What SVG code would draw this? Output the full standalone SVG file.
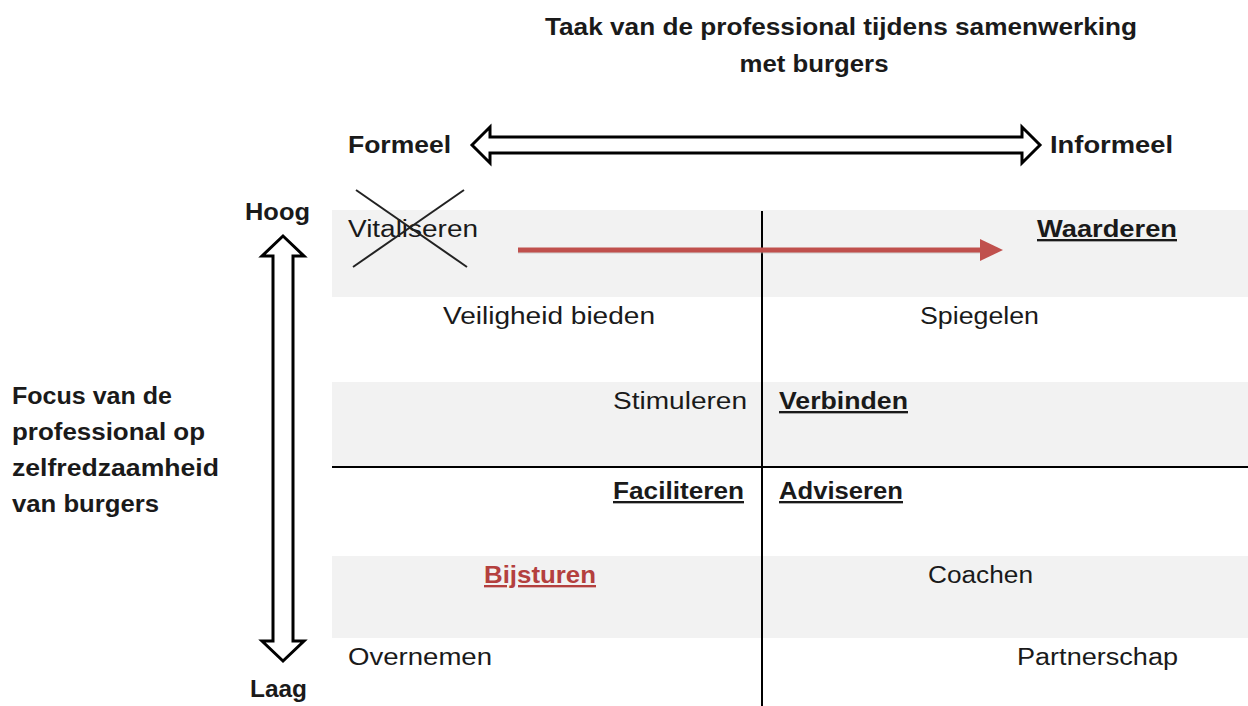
<svg xmlns="http://www.w3.org/2000/svg" width="1248" height="706" viewBox="0 0 1248 706">
<style>
text{font-family:"Liberation Sans",Arial,sans-serif;font-size:23.5px;fill:#1a1a1a}
.b{font-weight:bold}
.u{font-weight:bold;text-decoration:underline}
.band{fill:#f2f2f2}
.ax{fill:#fff;stroke:#000;stroke-width:3;stroke-linejoin:miter}
</style>
<rect width="1248" height="706" fill="#fff"/>
<g id="bands">
<rect class="band" x="332" y="210" width="916" height="87"/>
<rect class="band" x="332" y="382" width="916" height="85"/>
<rect class="band" x="332" y="556" width="916" height="82"/>
</g>
<g id="grid">
<line x1="762" y1="211" x2="762" y2="706" stroke="#000" stroke-width="2"/>
<line x1="332" y1="467" x2="1248" y2="467" stroke="#000" stroke-width="2"/>
</g>
<g id="title">
<text class="b" x="841" y="35" text-anchor="middle" textLength="592" lengthAdjust="spacingAndGlyphs">Taak van de professional tijdens samenwerking</text>
<text class="b" x="814" y="72" text-anchor="middle" textLength="149" lengthAdjust="spacingAndGlyphs">met burgers</text>
</g>
<g id="axis-h">
<polygon class="ax" points="472,145 490,127 490,137 1022,137 1022,127 1040,145 1022,163 1022,153 490,153 490,163"/>
<text class="b" x="348" y="153" textLength="103" lengthAdjust="spacingAndGlyphs">Formeel</text>
<text class="b" x="1050" y="153" textLength="123" lengthAdjust="spacingAndGlyphs">Informeel</text>
</g>
<g id="axis-v">
<polygon class="ax" points="283,236 304,256 293,256 293,641 304,641 283,661 262,641 273,641 273,256 262,256"/>
<text class="b" x="245" y="220" textLength="65" lengthAdjust="spacingAndGlyphs">Hoog</text>
<text class="b" x="250" y="697" textLength="57" lengthAdjust="spacingAndGlyphs">Laag</text>
</g>
<g id="focus-label">
<text class="b" x="12" y="404" textLength="160" lengthAdjust="spacingAndGlyphs">Focus van de</text>
<text class="b" x="12" y="440" textLength="193" lengthAdjust="spacingAndGlyphs">professional op</text>
<text class="b" x="12" y="476" textLength="207" lengthAdjust="spacingAndGlyphs">zelfredzaamheid</text>
<text class="b" x="12" y="512" textLength="147" lengthAdjust="spacingAndGlyphs">van burgers</text>
</g>
<g id="vitaliseren">
<text x="348" y="237" textLength="130" lengthAdjust="spacingAndGlyphs">Vitaliseren</text>
<line x1="356" y1="190" x2="467" y2="267" stroke="#222" stroke-width="2"/>
<line x1="464" y1="190" x2="353" y2="267" stroke="#222" stroke-width="2"/>
</g>
<g id="connectors">
<line x1="518" y1="251" x2="982" y2="251" stroke="#b0b0b0" stroke-width="5" opacity="0.5"/>
<line x1="518" y1="250" x2="982" y2="250" stroke="#c0504d" stroke-width="5"/>
<polygon points="980,239 1003,250 980,261" fill="#c0504d"/>
</g>
<g id="waarderen"><text class="u" x="1037" y="237" textLength="140" lengthAdjust="spacingAndGlyphs">Waarderen</text></g>
<g id="veiligheid"><text x="443" y="324" textLength="212" lengthAdjust="spacingAndGlyphs">Veiligheid bieden</text></g>
<g id="spiegelen"><text x="920" y="324" textLength="119" lengthAdjust="spacingAndGlyphs">Spiegelen</text></g>
<g id="stimuleren"><text x="613" y="409" textLength="134" lengthAdjust="spacingAndGlyphs">Stimuleren</text></g>
<g id="verbinden"><text class="u" x="779" y="409" textLength="129" lengthAdjust="spacingAndGlyphs">Verbinden</text></g>
<g id="faciliteren"><text class="u" x="613" y="499" textLength="131" lengthAdjust="spacingAndGlyphs">Faciliteren</text></g>
<g id="adviseren"><text class="u" x="779" y="499" textLength="124" lengthAdjust="spacingAndGlyphs">Adviseren</text></g>
<g id="bijsturen"><text class="u" x="484" y="583" textLength="112" lengthAdjust="spacingAndGlyphs" style="fill:#b4403e">Bijsturen</text></g>
<g id="coachen"><text x="928" y="583" textLength="105" lengthAdjust="spacingAndGlyphs">Coachen</text></g>
<g id="overnemen"><text x="348" y="665" textLength="144" lengthAdjust="spacingAndGlyphs">Overnemen</text></g>
<g id="partnerschap"><text x="1017" y="665" textLength="161" lengthAdjust="spacingAndGlyphs">Partnerschap</text></g>
</svg>
